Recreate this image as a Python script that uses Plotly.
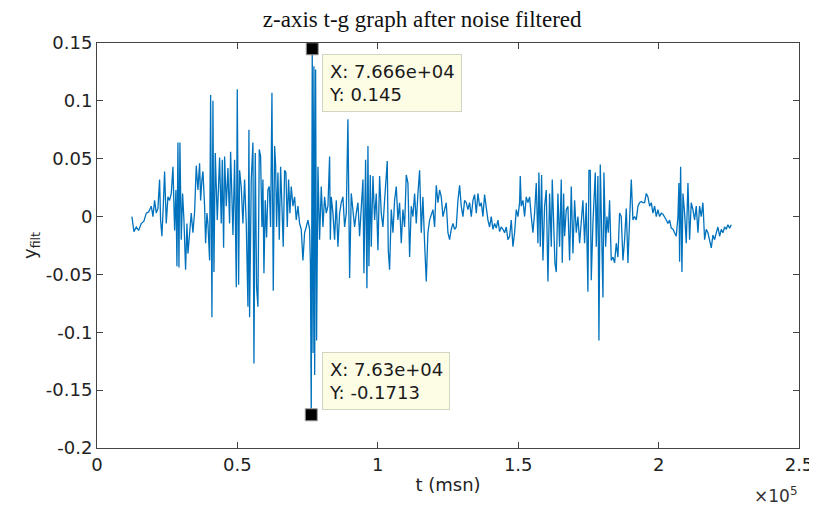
import plotly.graph_objects as go

# filtered z-axis signal (t in thousands of msn)
t_k = [
    12.44, 13.15, 13.98, 14.81, 15.76, 16.71, 17.55, 18.38, 19.33, 19.92,
    20.51, 21.11, 21.70, 22.29, 22.65, 23.12, 23.60, 24.07, 24.67, 25.26,
    25.86, 26.45, 27.04, 27.64, 28.11, 28.47, 28.82, 29.18, 29.53, 30.01,
    30.48, 30.96, 31.55, 32.03, 32.38, 32.98, 33.57, 34.16, 34.76, 35.35,
    35.94, 36.54, 36.90, 37.37, 37.73, 38.32, 38.67, 39.15, 39.51, 40.10,
    40.46, 40.93, 41.29, 41.64, 42.12, 42.83, 43.30, 43.66, 44.25, 44.61,
    45.09, 45.44, 46.04, 46.63, 47.22, 47.58, 48.05, 48.41, 49.00, 49.60,
    49.95, 50.43, 50.78, 51.38, 51.97, 52.56, 53.16, 53.75, 54.11, 54.34,
    54.94, 55.53, 55.89, 56.36, 56.84, 57.31, 57.79, 58.26, 58.74, 59.09,
    59.45, 59.92, 60.40, 60.87, 61.35, 61.82, 62.30, 62.77, 63.25, 63.60,
    63.96, 64.43, 64.91, 65.39, 65.86, 66.33, 66.81, 67.28, 67.76, 68.23,
    68.71, 69.18, 69.78, 70.37, 70.96, 71.56, 72.15, 72.74, 73.34, 73.93,
    74.52, 75.12, 75.71, 76.00, 76.30, 76.66, 76.95, 77.25, 77.52, 77.85,
    78.20, 78.68, 79.27, 79.87, 80.46, 81.05, 81.65, 82.24, 82.84, 83.10,
    83.43, 84.02, 84.62, 85.21, 85.80, 86.40, 86.99, 87.58, 88.18, 88.77,
    89.36, 89.96, 90.55, 91.14, 91.74, 92.33, 92.93, 93.52, 94.11, 94.71,
    95.06, 95.66, 96.13, 96.49, 96.84, 97.32, 97.67, 98.27, 98.86, 99.45,
    100.05, 100.64, 101.23, 101.83, 102.42, 103.37, 103.73, 104.20, 104.80, 105.39,
    105.98, 106.58, 107.17, 107.76, 108.36, 108.95, 109.54, 110.14, 110.73, 111.33,
    111.92, 112.51, 113.11, 113.70, 114.29, 114.89, 115.48, 116.07, 116.67, 117.26,
    117.85, 118.45, 119.64, 120.23, 120.82, 121.42, 122.01, 122.60, 123.20, 123.79,
    124.38, 124.98, 125.57, 126.16, 126.76, 127.35, 127.94, 128.54, 129.13, 129.72,
    130.32, 130.91, 131.51, 132.10, 132.69, 133.29, 133.88, 134.47, 135.07, 135.66,
    136.25, 136.85, 137.44, 138.03, 138.63, 139.22, 139.81, 140.41, 141.00, 141.60,
    142.19, 142.78, 143.38, 143.97, 144.56, 145.16, 145.75, 146.34, 146.94, 147.53,
    148.12, 148.72, 149.31, 149.91, 150.50, 150.74, 151.09, 151.69, 152.28, 152.87,
    153.47, 154.06, 154.65, 155.25, 155.84, 156.43, 157.03, 157.38, 157.86, 158.33,
    158.81, 159.40, 159.99, 160.59, 161.18, 161.78, 162.13, 162.61, 163.08, 163.56,
    164.15, 164.74, 165.34, 165.69, 166.17, 166.52, 167.12, 167.71, 168.30, 168.90,
    169.49, 170.09, 170.68, 171.27, 171.87, 173.05, 173.65, 174.24, 174.83, 175.19,
    175.67, 176.02, 176.61, 177.45, 177.80, 178.39, 178.75, 179.23, 179.82, 180.18,
    180.53, 181.13, 181.60, 182.08, 182.55, 183.14, 183.74, 184.33, 184.92, 185.52,
    186.11, 186.70, 187.30, 187.89, 188.49, 189.08, 189.67, 190.27, 190.86, 191.45,
    192.05, 192.64, 193.23, 193.83, 194.42, 195.02, 195.61, 196.20, 196.80, 197.39,
    197.98, 198.58, 199.17, 199.76, 200.36, 200.95, 201.54, 202.14, 202.73, 203.32,
    203.92, 204.51, 205.11, 205.70, 206.29, 206.89, 207.24, 207.48, 207.84, 208.31,
    208.67, 209.26, 209.85, 210.45, 211.04, 211.63, 212.23, 212.82, 213.41, 214.01,
    214.60, 215.19, 215.79, 216.38, 216.97, 217.57, 218.16, 218.76, 219.35, 219.94,
    220.54, 221.13, 221.72, 222.32, 222.91, 223.50, 224.10, 224.69, 225.28, 225.88,
]

y_filt = [
    0.000, -0.013, -0.009, -0.012, -0.006, -0.004, 0.003, 0.004, 0.009, 0.000,
    0.014, 0.003, 0.007, 0.032, -0.003, -0.017, 0.009, 0.039, -0.006, 0.017,
    0.014, 0.020, 0.043, -0.012, 0.023, -0.043, 0.064, -0.044, 0.064, -0.020,
    0.020, -0.003, -0.046, -0.006, -0.032, -0.014, 0.003, -0.014, 0.004, 0.044,
    0.023, 0.046, 0.014, 0.032, 0.039, 0.009, -0.023, 0.003, -0.006, -0.038,
    0.105, -0.087, 0.100, -0.048, 0.055, -0.003, 0.032, 0.051, -0.006, 0.049,
    -0.027, 0.052, 0.009, 0.042, -0.006, 0.056, 0.017, -0.016, 0.049, -0.061,
    0.110, -0.059, 0.040, 0.025, -0.006, 0.032, -0.006, -0.078, 0.075, -0.087,
    0.032, 0.064, -0.127, 0.055, -0.061, -0.078, 0.058, 0.052, -0.009, 0.032,
    -0.049, 0.014, -0.018, 0.023, 0.026, -0.009, 0.107, -0.064, 0.061, 0.045,
    -0.009, 0.038, -0.020, 0.043, 0.009, -0.026, 0.040, 0.038, -0.009, 0.032,
    0.003, 0.026, 0.009, 0.017, -0.003, 0.009, -0.006, -0.011, -0.038, -0.014,
    -0.009, -0.003, -0.011, -0.040, -0.1713, 0.145, -0.118, 0.130, -0.137, 0.127,
    -0.107, 0.043, -0.020, 0.026, -0.009, 0.017, 0.003, 0.009, 0.052, -0.020,
    0.017, 0.003, -0.020, 0.014, -0.026, 0.003, 0.012, 0.017, -0.009, 0.003,
    0.084, -0.053, 0.020, 0.006, -0.009, 0.003, 0.012, -0.017, 0.014, 0.032,
    -0.049, 0.049, -0.062, 0.061, -0.043, 0.036, -0.026, 0.035, -0.003, 0.020,
    -0.029, 0.035, 0.003, -0.009, 0.014, 0.048, -0.029, -0.046, 0.006, -0.014,
    0.014, 0.026, -0.003, 0.012, -0.023, 0.006, -0.009, 0.036, 0.029, -0.035,
    0.009, 0.000, 0.020, -0.006, 0.020, 0.040, -0.014, 0.017, -0.023, -0.056,
    -0.014, -0.003, 0.006, -0.009, 0.027, 0.012, 0.023, 0.017, 0.000, 0.006,
    0.012, -0.014, -0.020, -0.011, -0.006, -0.011, -0.009, 0.014, 0.027, 0.009,
    0.000, 0.014, 0.012, 0.006, 0.012, 0.000, 0.014, 0.019, 0.003, 0.020,
    0.009, 0.012, 0.000, 0.019, 0.006, -0.003, -0.009, 0.000, -0.011, -0.006,
    -0.010, -0.003, -0.013, -0.009, -0.011, -0.014, -0.009, -0.020, -0.017, -0.003,
    -0.026, -0.014, 0.006, 0.000, 0.012, 0.035, 0.009, 0.014, 0.000, 0.017,
    0.012, 0.017, 0.000, -0.014, 0.003, 0.029, -0.023, 0.038, -0.026, 0.036,
    -0.038, 0.009, 0.023, -0.056, 0.020, -0.026, 0.032, -0.017, -0.040, -0.048,
    0.020, -0.026, 0.032, -0.040, 0.020, -0.017, 0.006, 0.009, -0.038, 0.026,
    -0.032, 0.014, -0.014, 0.000, -0.023, 0.014, -0.023, 0.012, -0.065, 0.040,
    0.040, -0.055, -0.006, 0.038, -0.026, 0.035, -0.107, 0.045, -0.020, -0.070,
    0.038, -0.026, 0.000, -0.014, 0.014, -0.038, -0.035, -0.040, -0.023, -0.035,
    0.003, 0.000, -0.038, -0.020, 0.007, -0.040, -0.003, 0.032, -0.003, 0.000,
    -0.003, 0.009, 0.012, 0.013, 0.012, 0.012, 0.020, 0.017, 0.009, 0.012,
    0.003, 0.009, 0.000, 0.006, 0.000, 0.003, 0.002, 0.000, -0.003, -0.006,
    -0.003, -0.010, -0.011, -0.014, -0.017, 0.000, 0.029, -0.039, 0.043, -0.048,
    0.020, 0.003, -0.023, 0.029, -0.020, 0.012, 0.006, -0.003, 0.009, -0.014,
    0.009, 0.000, 0.012, -0.020, -0.011, -0.014, -0.020, -0.027, -0.016, -0.020,
    -0.014, -0.009, -0.017, -0.011, -0.014, -0.009, -0.011, -0.007, -0.010, -0.007,
]

# data tips shown on the figure
tip_t = [76660, 76300]
tip_y = [0.145, -0.1713]
tip_text = ["X: 7.666e+04<br>Y: 0.145", "X: 7.63e+04<br>Y: -0.1713"]

x_ticks = [0, 50000, 100000, 150000, 200000, 250000]
x_tick_labels = ["0", "0.5", "1", "1.5", "2", "2.5"]
y_ticks = [-0.2, -0.15, -0.1, -0.05, 0, 0.05, 0.1, 0.15]
y_tick_labels = ["-0.2", "-0.15", "-0.1", "-0.05", "0", "0.05", "0.1", "0.15"]

sans = "DejaVu Sans"
axis_color = "#444444"

fig = go.Figure()

fig.add_trace(
    go.Scatter(
        x=[v * 1000 for v in t_k],
        y=y_filt,
        mode="lines",
        line=dict(color="#0072BD", width=1.3),
        showlegend=False,
    )
)

fig.add_trace(
    go.Scatter(
        x=tip_t,
        y=tip_y,
        mode="markers",
        marker=dict(symbol="square", size=12, color="black",
                    line=dict(color="#9a9a9a", width=1)),
        showlegend=False,
    )
)

# datatip boxes: first one hangs below its point, second sits above its point
fig.add_annotation(
    x=tip_t[0], y=tip_y[0], xref="x", yref="y", text=tip_text[0],
    showarrow=False, xanchor="left", yanchor="top", align="left",
    xshift=10, yshift=-5,
    bgcolor="#fdfde6", bordercolor="#d4d4c4", borderwidth=1, borderpad=6,
    font=dict(family=sans, size=18, color="#1a1a1a"),
)
fig.add_annotation(
    x=tip_t[1], y=tip_y[1], xref="x", yref="y", text=tip_text[1],
    showarrow=False, xanchor="left", yanchor="bottom", align="left",
    xshift=11, yshift=5,
    bgcolor="#fdfde6", bordercolor="#d4d4c4", borderwidth=1, borderpad=6,
    font=dict(family=sans, size=18, color="#1a1a1a"),
)

# exponent label under the right end of the x axis
fig.add_annotation(
    x=1, y=-0.115, xref="paper", yref="paper", text="×10<sup>5</sup>",
    showarrow=False, xanchor="right", yanchor="middle",
    font=dict(family=sans, size=17, color="#333333"),
)

axis_common = dict(
    showline=True, linecolor=axis_color, linewidth=1, mirror="ticks",
    ticks="inside", ticklen=6, tickcolor=axis_color,
    showgrid=False, zeroline=False, automargin=False,
    tickfont=dict(family=sans, size=18, color="#222222"),
)

# the page body adds an 8px offset, so the figure is 8px smaller each way
fig.update_layout(
    width=809,
    height=498,
    margin=dict(l=89, r=18, t=35, b=58),
    paper_bgcolor="white",
    plot_bgcolor="white",
    title=dict(
        text="z-axis t-g graph after noise filtered",
        x=0.512, xref="container", xanchor="center",
        y=1, yref="container", yanchor="top", pad=dict(t=3),
        font=dict(family="Liberation Serif", size=23, color="#111111"),
    ),
    xaxis=dict(
        range=[0, 250000], tickvals=x_ticks, ticktext=x_tick_labels,
        title=dict(text="t (msn)", standoff=4,
                   font=dict(family=sans, size=18, color="#222222")),
        **axis_common,
    ),
    yaxis=dict(
        range=[-0.2, 0.15], tickvals=y_ticks, ticktext=y_tick_labels,
        title=dict(text="y<sub>filt</sub>", standoff=4,
                   font=dict(family=sans, size=18, color="#222222")),
        **axis_common,
    ),
)

fig.write_html("out.html")
